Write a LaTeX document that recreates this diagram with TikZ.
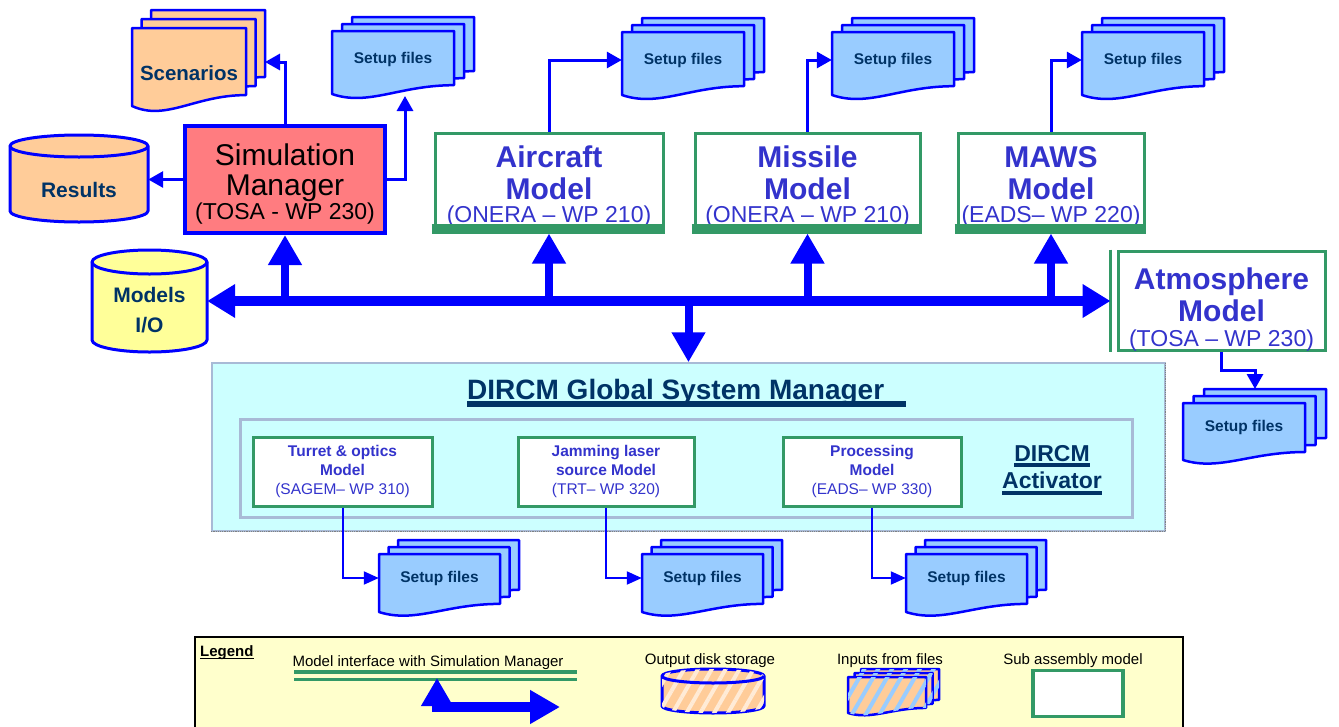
\documentclass[tikz,border=0pt]{standalone}
\usepackage{fontspec}
\setmainfont{Liberation Sans}
\usetikzlibrary{arrows.meta,patterns.meta}

\definecolor{wireblue}{HTML}{0000FF}
\definecolor{fileblue}{HTML}{99CCFF}
\definecolor{diskorange}{HTML}{FFCC99}
\definecolor{peach}{HTML}{FFEBD6}
\definecolor{simred}{HTML}{FF7C80}
\definecolor{iocolor}{HTML}{FFFF99}
\definecolor{modgreen}{HTML}{339966}
\definecolor{modtext}{HTML}{3333CC}
\definecolor{navytext}{HTML}{003366}
\definecolor{gsmfill}{HTML}{CCFFFF}
\definecolor{activline}{HTML}{A8BAD6}
\definecolor{legendfill}{HTML}{FFFFCC}

\tikzstyle{wire}=[draw=wireblue, line width=3pt, -{Triangle[length=15pt,width=16pt]}]
\tikzstyle{thinwire}=[draw=wireblue, line width=2pt, -{Triangle[length=15pt,width=13pt]}]
\tikzstyle{bus}=[draw=wireblue, line width=10pt, {Triangle[length=28pt,width=32pt]}-{Triangle[length=28pt,width=32pt]}]
\tikzstyle{tap}=[draw=wireblue, line width=8pt, -{Triangle[length=30pt,width=32pt]}]
\tikzstyle{filesheet}=[draw=wireblue, line width=2.5pt, line join=round]
\tikzstyle{filetext}=[font=\fontsize{15.5}{17}\selectfont\bfseries, text=navytext, inner sep=0pt]
\tikzstyle{disk}=[draw=wireblue, line width=3pt, line join=round]
\tikzstyle{disktext}=[font=\fontsize{21}{30}\selectfont\bfseries, text=navytext, align=center, inner sep=0pt]
\tikzstyle{simbox}=[draw=wireblue, line width=4pt, fill=simred, align=center, inner sep=0pt, font=\fontsize{30}{30}\selectfont]
\tikzstyle{model}=[draw=modgreen, line width=3pt, fill=white, text=modtext, align=center, inner sep=0pt, font=\fontsize{30}{32}\selectfont\bfseries]
\tikzstyle{modelbar}=[draw=modgreen, line width=10pt]
\tikzstyle{submodel}=[draw=modgreen, line width=3pt, fill=white, text=modtext, align=center, inner sep=0pt, font=\fontsize{15.5}{19}\selectfont\bfseries]
\tikzstyle{legendtext}=[font=\fontsize{15}{17}\selectfont, inner sep=0pt]
\tikzstyle{hatchdisk}=[fill=diskorange, postaction={pattern={Lines[angle=60,distance=12pt,line width=4pt]}, pattern color=peach}]
\tikzstyle{hatchfiles}=[fill=diskorange, postaction={pattern={Lines[angle=60,distance=12pt,line width=4pt]}, pattern color=fileblue}]

\newcommand{\subfont}{\fontsize{23}{23}\selectfont\mdseries}
\newcommand{\ulthick}[3]{\setbox0=\hbox{#3}\copy0\kern-\wd0\rule[-#1]{\wd0}{#2}}

% one sheet with a wavy bottom: x, y, w, h, style
\newcommand{\docsheet}[5]{%
  \pgfmathsetmacro\dsl{#1}\pgfmathsetmacro\dst{#2}%
  \pgfmathsetmacro\dsr{#1+#3}\pgfmathsetmacro\dsb{#2+#4}%
  \pgfmathsetmacro\dsc{#2+0.86*#4}\pgfmathsetmacro\dsa{#1+0.55*#3}%
  \pgfmathsetmacro\dsd{#1+0.3*#3}\pgfmathsetmacro\dse{#2+1.2*#4}%
  \filldraw[filesheet,#5] (\dsl,\dst) -- (\dsr,\dst) -- (\dsr,\dsc)
    .. controls (\dsa,\dsc) and (\dsd,\dse) .. (\dsl,\dsb) -- cycle;}
% three sheets: x, y, w, h, dx, dy, style
\newcommand{\filestack}[7]{%
  \docsheet{#1+2*#5}{#2-2*#6}{#3}{#4}{#7}%
  \docsheet{#1+#5}{#2-#6}{#3}{#4}{#7}%
  \docsheet{#1}{#2}{#3}{#4}{#7}}
% disk: x, y, w, h, cap radius, style
\newcommand{\diskshape}[6]{%
  \pgfmathsetmacro\dkl{#1}\pgfmathsetmacro\dkr{#1+#3}%
  \pgfmathsetmacro\dkt{#2+#5}\pgfmathsetmacro\dkb{#2+#4-#5}%
  \pgfmathsetmacro\dkx{#3/2}%
  \filldraw[disk,#6] (\dkl,\dkt) -- (\dkl,\dkb) arc[start angle=180,end angle=0,x radius=\dkx,y radius=#5]
    -- (\dkr,\dkt) arc[start angle=360,end angle=180,x radius=\dkx,y radius=#5] -- cycle;
  \draw[disk] (\dkl,\dkt) arc[start angle=180,end angle=0,x radius=\dkx,y radius=#5];}

\begin{document}
\begin{tikzpicture}[x=1pt, y=-1pt]
\useasboundingbox (0,0) rectangle (1339,726);
% Storage
    \diskshape{10}{135}{138}{87}{11}{fill=diskorange}
    \node[disktext] (results) at (79,190) {Results};
    \node[minimum width=138pt, inner sep=0pt] (resultsin) at (79,179.5) {};
    \diskshape{92}{250}{115}{102}{12}{fill=iocolor}
    \node[disktext, minimum width=115pt] (modelsio) at (149.5,310) {Models\\I/O};
% Files
    \filestack{132}{28}{114}{78}{9.5}{9}{fill=diskorange}
    \node[filetext, font=\fontsize{20.5}{22}\selectfont\bfseries] (scenarios) at (189,73) {Scenarios};
    \filestack{332}{31}{122}{63}{10}{7}{fill=fileblue}
    \node[filetext, minimum width=122pt] (smset) at (393,59) {Setup files};
    \filestack{622}{32}{122}{63}{10}{7}{fill=fileblue}
    \node[filetext, minimum width=122pt] (airset) at (683,60) {Setup files};
    \filestack{832}{32}{122}{63}{10}{7}{fill=fileblue}
    \node[filetext, minimum width=122pt] (misset) at (893,60) {Setup files};
    \filestack{1082}{32}{122}{63}{10}{7}{fill=fileblue}
    \node[filetext, minimum width=122pt] (mawsset) at (1143,60) {Setup files};
    \filestack{1183}{403}{122}{57}{10.5}{7}{fill=fileblue}
    \node[filetext, minimum width=122pt] (atmset) at (1244,427) {Setup files};
    \filestack{379}{554}{121}{58}{9.5}{7}{fill=fileblue}
    \node[filetext, minimum width=121pt] (turset) at (439.5,578) {Setup files};
    \filestack{642}{554}{121}{58}{9.5}{7}{fill=fileblue}
    \node[filetext, minimum width=121pt] (jamset) at (702.5,578) {Setup files};
    \filestack{906}{554}{121}{58}{9.5}{7}{fill=fileblue}
    \node[filetext, minimum width=121pt] (proset) at (966.5,578) {Setup files};
% Simulation manager and models
    \node[simbox, minimum width=200pt, minimum height=107pt] (sim) at (285,179.5)
        {\rule{0pt}{31pt}Simulation\\Manager\\[-6pt]{\fontsize{23}{23}\selectfont (TOSA - WP 230)}};
    \node[model, minimum width=228pt, minimum height=99pt] (aircraft) at (549,182.5)
        {\rule{0pt}{30pt}Aircraft\\Model\\[-9pt]{\subfont (ONERA – WP 210)}};
    \node[model, minimum width=225pt, minimum height=99pt] (missile) at (807.5,182.5)
        {\rule{0pt}{30pt}Missile\\Model\\[-9pt]{\subfont (ONERA – WP 210)}};
    \node[model, minimum width=186pt, minimum height=99pt] (maws) at (1051,182.5)
        {\rule{0pt}{30pt}MAWS\\Model\\[-9pt]{\subfont (EADS– WP 220)}};
    \node[model, minimum width=207pt, minimum height=95pt] (atmos) at (1221.5,301)
        {\rule{0pt}{38pt}Atmosphere\\Model\\[-7pt]{\subfont (TOSA – WP 230)}};
    \draw[modelbar] ([xshift=-2pt,yshift=5pt]aircraft.south west) -- ([yshift=5pt]aircraft.south east);
    \draw[modelbar] ([xshift=-2pt,yshift=5pt]missile.south west) -- ([yshift=5pt]missile.south east);
    \draw[modelbar] ([xshift=-2pt,yshift=5pt]maws.south west) -- ([yshift=5pt]maws.south east);
    \draw[draw=modgreen, line width=3pt] ([xshift=-6pt]atmos.north west) -- ([xshift=-6pt]atmos.south west);
% File links
    \coordinate (scenin) at (265,62);
    \coordinate (smsetin) at (405,96);
    \coordinate (atmsetin) at (1255,389);
    \draw[wire] (sim.north) |- (scenin);
    \draw[wire] (sim.west) -- (sim.west -| resultsin.east);
    \draw[wire] (sim.east) -| (smsetin);
    \draw[wire] (aircraft.north) |- (airset.west);
    \draw[wire] (missile.north) |- (misset.west);
    \draw[wire] (maws.north) |- (mawsset.west);
    \draw[wire] (atmos.south) -- ++(0,18) -| (atmsetin);
% DIRCM global system manager
    \node[fill=gsmfill, draw=activline, line width=1.5pt, minimum width=953pt, minimum height=168pt] (gsm) at (688.5,447) {};
    \draw[densely dotted, draw=gray, line width=1.2pt] (gsm.south west) -- (gsm.south east) -- (gsm.north east);
    \node[anchor=base west, inner sep=0pt, text=navytext, font=\fontsize{28}{30}\selectfont\bfseries] (gsmtitle) at (467,399)
        {\ulthick{8pt}{6pt}{DIRCM Global System Manager\hspace{22pt}}};
    \node[draw=activline, line width=3pt, minimum width=892pt, minimum height=98pt] (activ) at (686,468) {};
    \node[text=navytext, align=center, inner sep=0pt, font=\fontsize{23}{27}\selectfont\bfseries] (activtxt) at (1052,470)
        {\ulthick{6pt}{4pt}{DIRCM}\\\ulthick{7pt}{4pt}{Activator}};
    \node[submodel, minimum width=179pt, minimum height=69pt] (turret) at (342.5,471.5)
        {Turret \& optics\\Model\\{\mdseries (SAGEM– WP 310)}};
    \node[submodel, minimum width=176pt, minimum height=69pt] (jamming) at (606,471.5)
        {Jamming laser\\source Model\\{\mdseries (TRT– WP 320)}};
    \node[submodel, minimum width=178pt, minimum height=69pt] (processing) at (872,471.5)
        {Processing\\Model\\{\mdseries (EADS– WP 330)}};
    \draw[thinwire] (turret.south) |- (turset.west);
    \draw[thinwire] (jamming.south) |- (jamset.west);
    \draw[thinwire] (processing.south) |- (proset.west);
% Bus
    \draw[bus] (atmos.west -| modelsio.east) -- ([xshift=-6pt]atmos.west);
    \draw[tap] (sim.south |- atmos.west) -- (sim.south);
    \draw[tap] (aircraft.south |- atmos.west) -- (aircraft.south);
    \draw[tap] (missile.south |- atmos.west) -- (missile.south);
    \draw[tap] (maws.south |- atmos.west) -- (maws.south);
    \draw[tap] (gsm.north |- atmos.west) -- (gsm.north);
% Legend
    \node[draw=black, line width=1.5pt, fill=legendfill, minimum width=988pt, minimum height=100pt] (legend) at (689,687) {};
    \node[legendtext, font=\fontsize{15}{17}\selectfont\bfseries, anchor=base west] (legendtitle) at (200,656) {\ulthick{3pt}{1.5pt}{Legend}};
    \node[legendtext] (legiface) at (428,663) {Model interface with Simulation Manager};
    \node[legendtext] (legdisk) at (710,661) {Output disk storage};
    \node[legendtext] (legfiles) at (890,661) {Inputs from files};
    \node[legendtext] (legsub) at (1073,661) {Sub assembly model};
    \draw[draw=modgreen, line width=3.5pt] (294,672) -- (577,672);
    \draw[draw=modgreen, line width=3.5pt] (294,679.5) -- (577,679.5);
    \draw[draw=wireblue, line width=10pt, {Triangle[length=28pt,width=30pt]}-{Triangle[length=30pt,width=32pt]}] (437,678) |- (560,707);
    \diskshape{662}{669}{102}{44}{7}{hatchdisk}
    \filestack{848}{677}{78}{36}{6.5}{4}{hatchfiles}
    \node[draw=modgreen, line width=3.5pt, fill=white, minimum width=90pt, minimum height=46pt] (legsubbox) at (1078,693.5) {};
\end{tikzpicture}
\end{document}
